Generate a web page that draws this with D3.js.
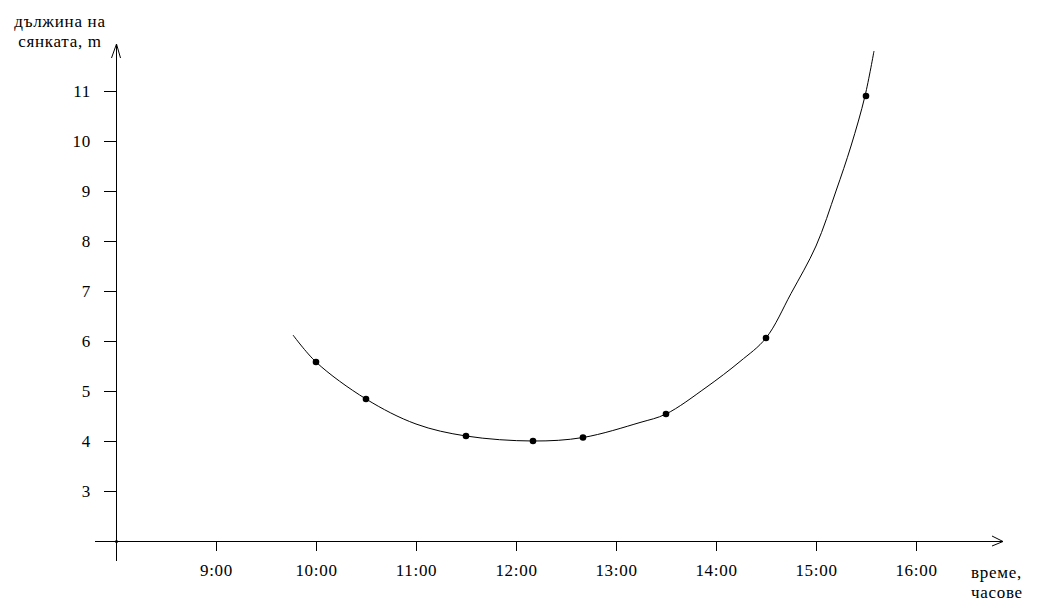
<!DOCTYPE html>
<html>
<head>
<meta charset="utf-8">
<script src="https://cdn.jsdelivr.net/npm/d3@7"></script>
<style>
  html, body { margin: 0; padding: 0; background: #fff; }
  svg { display: block; }
  svg text { font-family: "Liberation Serif", "Times New Roman", serif; font-size: 17px; letter-spacing: 0.7px; fill: #000; }
</style>
</head>
<body>
<svg id="chart" width="1041" height="612"></svg>
<script>
// Measured points (time in hours, shadow length in m)
const pointTimes = [10.0, 10.5, 11.5, 12.17, 12.67, 13.5, 14.5, 15.5];
const pointValues = [5.58, 4.84, 4.1, 4.0, 4.07, 4.54, 6.06, 10.9];

// Fitted curve
const curveTimes = [9.77, 10.0, 10.5, 11.0, 11.5, 12.17, 12.67, 13.24, 13.5, 13.9, 14.24, 14.5, 14.75, 15.0, 15.2, 15.35, 15.49, 15.58];
const curveValues = [6.12, 5.58, 4.84, 4.34, 4.1, 4.0, 4.07, 4.37, 4.54, 5.07, 5.59, 6.06, 6.95, 7.9, 9.0, 9.9, 10.9, 11.8];

const xTicks = [9, 10, 11, 12, 13, 14, 15, 16];
const xTickLabels = ["9:00", "10:00", "11:00", "12:00", "13:00", "14:00", "15:00", "16:00"];
const yTicks = [3, 4, 5, 6, 7, 8, 9, 10, 11];

const yTitle = ["дължина на", "сянката, m"];
const xTitle = ["време,", "часове"];

const svg = d3.select("#chart");
const x = d3.scaleLinear().domain([8, 16]).range([116, 916]);
const y = d3.scaleLinear().domain([2, 11]).range([541, 91]);

// Axis lines with open arrows
const axes = svg.append("g").attr("stroke", "#000").attr("stroke-width", 1).attr("fill", "none");
axes.append("line").attr("x1", 95).attr("y1", y(2) + 0.5).attr("x2", 1003).attr("y2", y(2) + 0.5).attr("shape-rendering", "crispEdges");
axes.append("path").attr("d", `M992,536 L1003,${y(2) + 0.5} L992,546`);
axes.append("line").attr("x1", x(8) + 0.5).attr("y1", 44).attr("x2", x(8) + 0.5).attr("y2", 561).attr("shape-rendering", "crispEdges");
axes.append("path").attr("d", `M111.5,58 L${x(8) + 0.5},44 L120.5,58`);

// X axis ticks
const xAxis = d3.axisBottom(x).tickValues(xTicks)
  .tickFormat((d, i) => xTickLabels[i]).tickSize(10).tickPadding(13).tickSizeOuter(0);
const gx = svg.append("g").attr("transform", `translate(0,${y(2)})`).call(xAxis);
gx.select(".domain").remove();
gx.selectAll(".tick line").attr("stroke", "#000").attr("shape-rendering", "crispEdges");
gx.selectAll(".tick text").attr("fill", "#000");

// Y axis ticks
const yAxis = d3.axisLeft(y).tickValues(yTicks).tickSize(12).tickPadding(13).tickSizeOuter(0);
const gy = svg.append("g").attr("transform", `translate(${x(8)},0)`).call(yAxis);
gy.select(".domain").remove();
gy.selectAll(".tick line").attr("stroke", "#000").attr("shape-rendering", "crispEdges");
gy.selectAll(".tick text").attr("fill", "#000");

// origin dot
svg.append("circle").attr("cx", x(8) + 0.5).attr("cy", y(2) + 0.5).attr("r", 1.5).attr("fill", "#000");

// Curve
const curveData = curveTimes.map((t, i) => [t, curveValues[i]]);
const line = d3.line().x(d => x(d[0])).y(d => y(d[1])).curve(d3.curveCatmullRom.alpha(0.5));
svg.append("path").datum(curveData).attr("d", line)
  .attr("fill", "none").attr("stroke", "#000").attr("stroke-width", 1);

// Points
svg.append("g").selectAll("circle")
  .data(pointTimes.map((t, i) => [t, pointValues[i]]))
  .join("circle")
  .attr("cx", d => x(d[0])).attr("cy", d => y(d[1])).attr("r", 3.3).attr("fill", "#000");

// Titles
const titles = svg.append("g");
titles.append("text").attr("x", 60).attr("y", 27).attr("text-anchor", "middle").text(yTitle[0]);
titles.append("text").attr("x", 60).attr("y", 47).attr("text-anchor", "middle").text(yTitle[1]);
titles.append("text").attr("x", 971).attr("y", 578).text(xTitle[0]);
titles.append("text").attr("x", 971).attr("y", 598).text(xTitle[1]);
</script>
</body>
</html>
